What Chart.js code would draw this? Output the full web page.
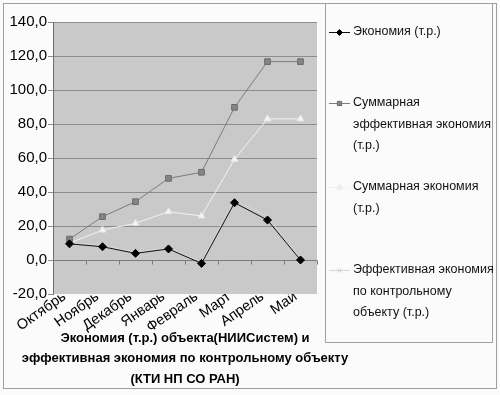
<!DOCTYPE html>
<html>
<head>
<meta charset="utf-8">
<script src="https://cdn.jsdelivr.net/npm/chart.js@4/dist/chart.umd.min.js"></script>
<style>
  html, body { margin: 0; padding: 0; background: #fbfbfb; }
  #wrap { width: 500px; height: 395px; }
</style>
</head>
<body>
<div id="wrap"><canvas id="graph" width="500" height="395"></canvas></div>
<script>
// data
const months = ["Октябрь", "Ноябрь", "Декабрь", "Январь", "Февраль", "Март", "Апрель", "Май"];
const economy = [9.5, 7.8, 3.9, 6.5, -2.0, 33.7, 23.5, 0.0];
const totalEffective = [12.3, 25.5, 34.3, 48.0, 51.6, 89.8, 116.7, 116.7];
const totalEconomy = [10.0, 17.6, 21.6, 28.4, 25.9, 59.2, 83.0, 83.0];
const effectiveControl = [10.5, 8.6, 4.6, 7.2, -1.2, 35.5, 25.5, 0.8];
const legendNames = [
  ["Экономия (т.р.)"],
  ["Суммарная", "эффективная экономия", "(т.р.)"],
  ["Суммарная экономия", "(т.р.)"],
  ["Эффективная экономия", "по контрольному", "объекту (т.р.)"]
];
const titleLines = [
  "Экономия (т.р.) объекта(НИИСистем) и",
  "эффективная экономия по контрольному объекту",
  "(КТИ НП СО РАН)"
];

const FONT = "'Liberation Sans', Arial, sans-serif";

// grey plot area + ticks on the zero line
const plotBg = {
  id: "plotBg",
  beforeDraw(chart) {
    const { ctx, chartArea: a } = chart;
    ctx.save();
    ctx.fillStyle = "#c9c9c9";
    ctx.fillRect(a.left, a.top, a.right - a.left, a.bottom - a.top);
    ctx.restore();
  },
  beforeDatasetsDraw(chart) {
    const { ctx, scales } = chart;
    const x = scales.x, y = scales.y;
    const y0 = Math.round(y.getPixelForValue(0)) + 0.5;
    ctx.save();
    ctx.strokeStyle = "#7a7a7a";
    ctx.lineWidth = 1;
    ctx.beginPath();
    ctx.moveTo(x.left, y0);
    ctx.lineTo(x.right, y0);
    for (let i = 0; i < months.length; i++) {
      let bx = i < months.length - 1
        ? (x.getPixelForValue(i) + x.getPixelForValue(i + 1)) / 2
        : x.right;
      bx = Math.round(bx) + 0.5;
      ctx.moveTo(bx, y0);
      ctx.lineTo(bx, y0 + 4);
    }
    ctx.stroke();
    ctx.restore();
  }
};

// frame, legend and title drawn by hand (multi-line entries)
const frame = {
  id: "frame",
  afterDraw(chart) {
    const ctx = chart.ctx;
    ctx.save();
    ctx.strokeStyle = "#a0a0a0";
    ctx.lineWidth = 1;
    ctx.strokeRect(3.5, 3.5, 493, 385);
    ctx.strokeRect(325.5, 3.5, 167, 339);

    // legend
    const rows = [32, 103, 187, 270];
    ctx.font = "12.5px " + FONT;
    ctx.textBaseline = "middle";
    ctx.textAlign = "left";
    chart.data.datasets.forEach((ds, i) => {
      const y = rows[i];
      ctx.strokeStyle = ds.borderColor;
      ctx.lineWidth = 1;
      ctx.beginPath();
      ctx.moveTo(329, y + 0.5);
      ctx.lineTo(350, y + 0.5);
      ctx.stroke();
      ctx.fillStyle = ds.pointBackgroundColor;
      ctx.strokeStyle = ds.pointBorderColor;
      Chart.helpers.drawPoint(ctx, { pointStyle: ds.pointStyle, radius: 3, borderWidth: 1 }, 339.5, y + 0.5);
      ctx.fillStyle = "#111";
      legendNames[i].forEach((t, k) => ctx.fillText(t, 353, y + k * 21.5));
    });

    // title
    ctx.font = "bold 13px " + FONT;
    ctx.textAlign = "center";
    ctx.fillStyle = "#000";
    titleLines.forEach((t, k) => ctx.fillText(t, 185, 338 + k * 20.5));
    ctx.restore();
  }
};

new Chart(document.getElementById("graph"), {
  type: "line",
  data: {
    labels: months,
    datasets: [
      {
        label: legendNames[0].join(" "),
        data: economy,
        borderColor: "#111111",
        borderWidth: 1,
        pointStyle: "rectRot",
        pointRadius: 4,
        pointBackgroundColor: "#000000",
        pointBorderColor: "#000000",
        tension: 0
      },
      {
        label: legendNames[1].join(" "),
        data: totalEffective,
        borderColor: "#7c7c7c",
        borderWidth: 1,
        pointStyle: "rect",
        pointRadius: 4,
        pointBackgroundColor: "#858585",
        pointBorderColor: "#6a6a6a",
        tension: 0
      },
      {
        label: legendNames[2].join(" "),
        data: totalEconomy,
        borderColor: "#f2f2f2",
        borderWidth: 1,
        pointStyle: "triangle",
        pointRadius: 4,
        pointBackgroundColor: "#f4f4f4",
        pointBorderColor: "#e6e6e6",
        tension: 0
      },
      {
        label: legendNames[3].join(" "),
        data: effectiveControl,
        borderColor: "#d6d6d6",
        borderWidth: 1,
        pointStyle: "crossRot",
        pointRadius: 3,
        pointBackgroundColor: "#dddddd",
        pointBorderColor: "#d0d0d0",
        tension: 0
      }
    ]
  },
  options: {
    responsive: false,
    animation: false,
    layout: { padding: { top: 22, right: 183, left: 0, bottom: 0 } },
    plugins: {
      legend: { display: false },
      title: { display: false },
      tooltip: { enabled: false }
    },
    scales: {
      x: {
        offset: true,
        afterFit: (s) => { s.height = 101; },
        grid: { display: false, offset: true },
        border: { display: false },
        ticks: {
          autoSkip: false,
          minRotation: 35,
          maxRotation: 35,
          padding: -14,
          labelOffset: -5,
          color: "#000",
          font: { family: FONT, size: 14.5 }
        }
      },
      y: {
        min: -20,
        max: 140,
        afterFit: (s) => { s.width = 53; },
        border: { display: true, color: "#6e6e6e" },
        grid: {
          color: (c) => (c.tick && c.tick.value === -20 ? "rgba(0,0,0,0)" : "#8c8c8c"),
          tickLength: 5,
          tickColor: "#8c8c8c"
        },
        ticks: {
          stepSize: 20,
          padding: 1,
          color: "#000",
          font: { family: FONT, size: 15 },
          callback: (v) => v.toFixed(1).replace(".", ",")
        }
      }
    }
  },
  plugins: [plotBg, frame]
});
</script>
</body>
</html>
